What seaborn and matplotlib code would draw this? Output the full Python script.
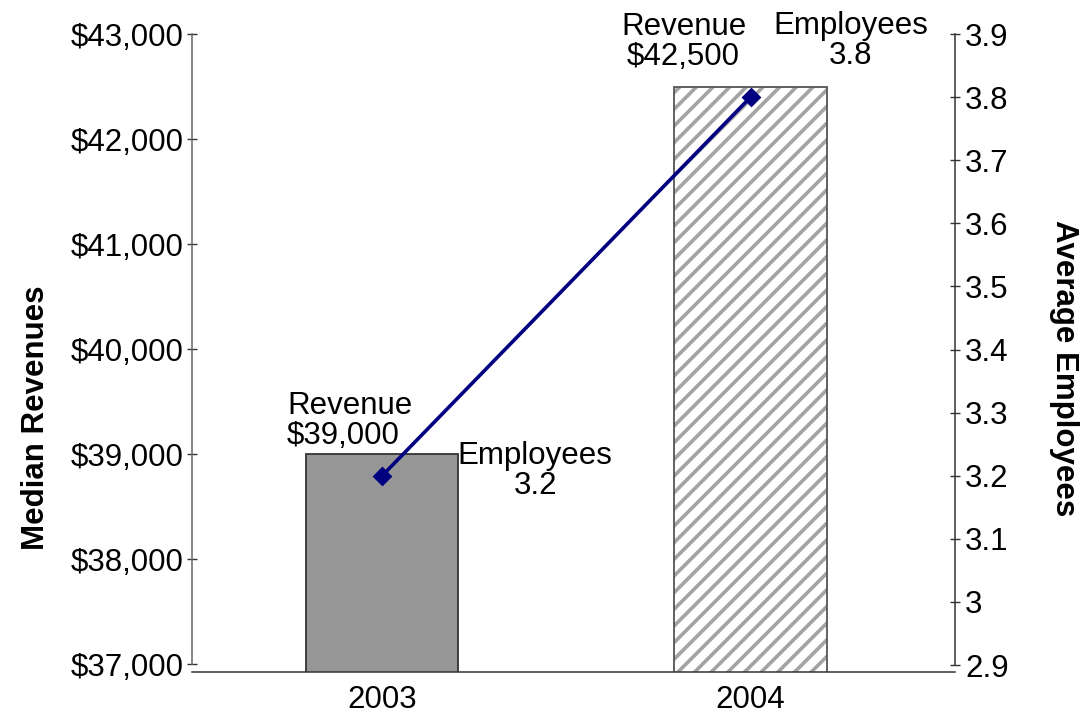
import numpy as np
import matplotlib
matplotlib.use("Agg")
import matplotlib.pyplot as plt
import matplotlib.colors as mcolors
from matplotlib.ticker import FuncFormatter, FixedLocator
import seaborn as sns

# Chart data
years = ["2003", "2004"]
revenues = [39000, 42500]          # median revenues, dollars
employees = [3.2, 3.8]             # average employees
revenue_ticks = [37000, 38000, 39000, 40000, 41000, 42000, 43000]
employee_ticks = [2.9, 3.0, 3.1, 3.2, 3.3, 3.4, 3.5, 3.6, 3.7, 3.8, 3.9]

sns.set_style("white")
plt.rcParams["font.family"] = ["Liberation Sans", "DejaVu Sans"]
plt.rcParams["text.color"] = "black"
plt.rcParams["axes.labelcolor"] = "black"
plt.rcParams["xtick.color"] = "black"
plt.rcParams["ytick.color"] = "black"
plt.rcParams["hatch.linewidth"] = 2.6
FS = 22.5

fig = plt.figure(figsize=(10.86, 7.13), dpi=100)
ax = fig.add_axes([0.1768, 0.0575, 0.7026, 0.8948])

# Revenue bars (primary axis)
sns.barplot(x=years, y=revenues, hue=years, palette=["#969696", "#ffffff"],
            legend=False, width=0.413, ax=ax, edgecolor="#333333",
            linewidth=1.3, saturation=1)

hatch_bar = ax.patches[1]
hatch_bar.set_hatch("//")
hatch_bar.set_edgecolor("#555555")
if hasattr(hatch_bar, "set_hatchcolor"):
    hatch_bar.set_hatchcolor("#a3a3a3")
else:
    hatch_bar._hatch_color = mcolors.to_rgba("#a3a3a3")

# Employees line (secondary axis)
ax2 = ax.twinx()
sns.pointplot(x=years, y=employees, ax=ax2, color="#000080", markers="D",
              errorbar=None, markersize=8, linewidth=2.6)

# Axis ranges
ax.set_xlim(-0.516, 1.555)
ax.set_ylim(36924, 43000)
ax2.set_ylim(2.889, 3.9)

# Spines
for a in (ax, ax2):
    a.spines["top"].set_visible(False)
ax.spines["right"].set_visible(False)
ax2.spines["left"].set_visible(False)
ax2.spines["bottom"].set_visible(False)
ax.spines["left"].set_bounds(revenue_ticks[0], revenue_ticks[-1])
ax2.spines["right"].set_bounds(employee_ticks[0], employee_ticks[-1])
ax.spines["left"].set_color("#666666")
ax.spines["bottom"].set_color("#333333")
ax2.spines["right"].set_color("#333333")
for sp in (ax.spines["left"], ax.spines["bottom"], ax2.spines["right"]):
    sp.set_linewidth(1.1)

# Ticks
ax.yaxis.set_major_locator(FixedLocator(revenue_ticks))
ax.yaxis.set_major_formatter(FuncFormatter(lambda v, p: f"${v:,.0f}"))
ax2.yaxis.set_major_locator(FixedLocator(employee_ticks))
ax2.yaxis.set_major_formatter(FuncFormatter(lambda v, p: f"{round(v, 1):g}"))
ax.tick_params(axis="y", direction="inout", length=6.5, width=1,
               colors="#333333", labelcolor="black", labelsize=FS, pad=3)
ax2.tick_params(axis="y", direction="inout", length=6.5, width=1,
                colors="#333333", labelcolor="black", labelsize=FS, pad=4)
ax.set_xticks([0, 1])
ax.set_xticklabels(years)
ax.tick_params(axis="x", which="major", length=0, labelsize=FS, pad=9,
               labelcolor="black")
ax.set_xticks([0.5], minor=True)
ax.tick_params(axis="x", which="minor", direction="in", length=7, width=1,
               colors="#333333")

# Axis titles
ax.set_ylabel("Median Revenues", fontsize=FS, fontweight="bold",
              color="black")
ax.yaxis.set_label_coords(-0.185, 0.399)
ax2.set_ylabel("Average Employees", fontsize=FS, fontweight="bold",
               rotation=270, va="center", color="black")
ax2.yaxis.set_label_coords(1.143, 0.476)
ax.set_xlabel("")

# Value labels
ax.annotate(f"Revenue\n${revenues[0]:,}", xy=(0, revenues[0]),
            xytext=(-95, 3), textcoords="offset pixels", ha="left",
            va="bottom", fontsize=FS, linespacing=1.0, color="black")
ax.annotate(f"Revenue\n${revenues[1]:,}", xy=(1, revenues[1]),
            xytext=(-67, 15), textcoords="offset pixels", ha="center",
            va="bottom", fontsize=FS, linespacing=1.0, color="black",
            annotation_clip=False)
ax2.annotate(f"Employees\n{employees[0]:g}", xy=(0, employees[0]),
             xytext=(153, -25), textcoords="offset pixels", ha="center",
             va="bottom", fontsize=FS, linespacing=1.0, color="black")
ax2.annotate(f"Employees\n{employees[1]:g}", xy=(1, employees[1]),
             xytext=(100, 26), textcoords="offset pixels", ha="center",
             va="bottom", fontsize=FS, linespacing=1.0, color="black",
             annotation_clip=False)

fig.savefig("out.png", dpi=100)
